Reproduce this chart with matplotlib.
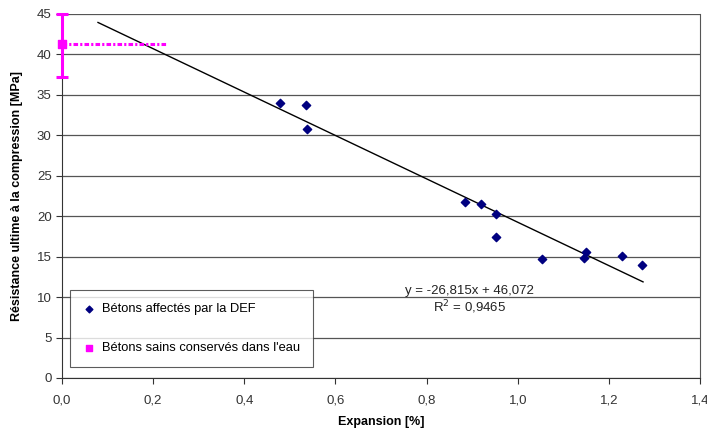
import matplotlib.pyplot as plt
import numpy as np
from matplotlib.ticker import FuncFormatter

plt.rcParams['font.family'] = ['Liberation Sans', 'DejaVu Sans']

# Bétons affectés par la DEF
expansion = [0.478, 0.535, 0.538, 0.884, 0.920, 0.952, 0.952, 1.053, 1.146, 1.150, 1.229, 1.273]
resistance = [34.0, 33.7, 30.8, 21.8, 21.5, 20.3, 17.4, 14.7, 14.8, 15.6, 15.1, 14.0]

# Bétons sains conservés dans l'eau
sain_x = [0.0]
sain_y = [41.3]
sain_yerr_low = [4.1]
sain_yerr_high = [3.7]
sain_xerr = [0.23]

# regression line
slope, intercept = -26.815, 46.072
fit_x = [0.079, 1.275]

fig = plt.figure(figsize=(7.07, 4.32), dpi=100)
ax = fig.add_axes([62/707, 1-378/432, 638/707, 364/432])

ax.set_xlim(0, 1.4)
ax.set_ylim(0, 45)
ax.set_xticks(np.arange(0, 1.41, 0.2))
ax.set_yticks(np.arange(0, 46, 5))
ax.yaxis.grid(True, color='#555555', linewidth=0.9)
ax.set_axisbelow(True)

fx = np.array(fit_x)
ax.plot(fx, slope*fx + intercept, color='black', linewidth=1.0, zorder=2)

ax.scatter(expansion, resistance, marker='D', s=18, color='#000080', zorder=3,
           label='Bétons affectés par la DEF')

ax.errorbar(sain_x, sain_y, yerr=[sain_yerr_low, sain_yerr_high], fmt='none',
            ecolor='#ff00ff', elinewidth=2.2, capsize=4, capthick=2.2, zorder=4, clip_on=False)
ax.plot([sain_x[0], sain_x[0] + sain_xerr[0]], [sain_y[0]]*2, color='#ff00ff',
        linestyle=(0, (1.5, 0.7, 0.7, 0.7)), linewidth=2.2, zorder=4, clip_on=False)
ax.scatter(sain_x, sain_y, marker='s', s=30, color='#ff00ff', zorder=5, clip_on=False,
           label="Bétons sains conservés dans l'eau")

ax.spines['top'].set_visible(False)
ax.spines['right'].set_color('#555555')
ax.spines['left'].set_color('#333333')
ax.spines['bottom'].set_color('#333333')

fmt = FuncFormatter(lambda v, p: f'{v:.1f}'.replace('.', ','))
ax.xaxis.set_major_formatter(fmt)
ax.tick_params(axis='both', labelsize=9.5, colors='#333333', direction='out', length=4)
ax.tick_params(axis='x', pad=8)

ax.set_xlabel('Expansion [%]', fontsize=9, fontweight='bold', labelpad=7)
ax.set_ylabel('Résistance ultime à la compression [MPa]', fontsize=9, fontweight='bold', labelpad=10)

ax.text(0.895, 10.8, 'y = -26,815x + 46,072', fontsize=9.5, ha='center', va='center', color='#222222')
ax.text(0.895, 8.7, 'R$^2$ = 0,9465', fontsize=9.5, ha='center', va='center', color='#222222')

leg = ax.legend(loc='lower left', bbox_to_anchor=(8/638, 11/364), borderaxespad=0,
                fontsize=9.3, frameon=True,
                fancybox=False, edgecolor='#333333', handletextpad=0.5, handlelength=1.0,
                borderpad=1.0, labelspacing=2.1, markerscale=0.8)
leg.get_frame().set_linewidth(0.8)

fig.savefig('out.png', dpi=100)
